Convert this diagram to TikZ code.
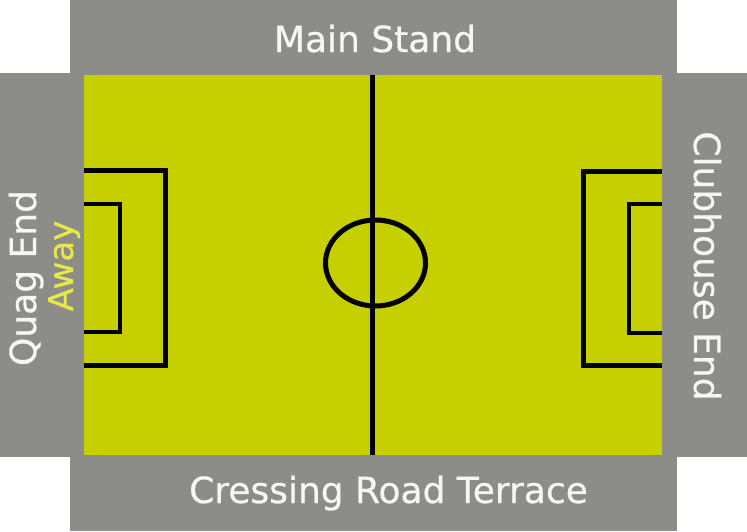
\documentclass[tikz,border=0pt]{standalone}
\usepackage{fontspec}
\setmainfont{DejaVu Sans}[FakeBold=0.6]
\definecolor{standgray}{HTML}{8C8C88}
\definecolor{pitchgreen}{HTML}{C6D000}
\definecolor{awayyellow}{HTML}{E8E848}
\definecolor{textwhite}{HTML}{F6F6F2}
\tikzset{
  standlabel/.style={inner sep=0pt, anchor=base, text=textwhite, font=\fontsize{36}{40}\selectfont},
  awaylabel/.style={inner sep=0pt, anchor=base, text=awayyellow, font=\fontsize{34}{38}\selectfont},
  pitchline/.style={draw=black, line width=5pt},
  thinline/.style={draw=black, line width=4pt}
}
\begin{document}
\begin{tikzpicture}[x=1pt,y=-1pt]
\useasboundingbox (0,0) rectangle (747,531);
\fill[white] (0,0) rectangle (747,531);
% stands
\fill[standgray] (70,0) rectangle (677,531);
\fill[standgray] (0,73) rectangle (747,457);
% pitch
\fill[pitchgreen] (84,75) rectangle (662,455);
% halfway line and centre circle
\coordinate (ht) at (372,75);
\coordinate (hb) at (372,455);
\draw[pitchline] (ht) -- (hb);
\coordinate (cc) at (375.5,263);
\draw[pitchline] (cc) ellipse [x radius=50, y radius=43];
% left penalty area and goal area
\coordinate (lpa1) at (84,170.5);
\coordinate (lpa2) at (165.5,365);
\coordinate (lpa3) at (84,365);
\draw[pitchline] (lpa1) -| (lpa2) -- (lpa3);
\coordinate (lga1) at (84,204);
\coordinate (lga2) at (119.5,332);
\coordinate (lga3) at (84,332);
\draw[thinline] (lga1) -| (lga2) -- (lga3);
% right penalty area and goal area
\coordinate (rpa1) at (662,171.5);
\coordinate (rpa2) at (583,365.5);
\coordinate (rpa3) at (662,365.5);
\draw[pitchline] (rpa1) -| (rpa2) -- (rpa3);
\coordinate (rga1) at (662,204);
\coordinate (rga2) at (629,332.5);
\coordinate (rga3) at (662,332.5);
\draw[thinline] (rga1) -| (rga2) -- (rga3);
% labels
\node[standlabel] (main) at (375,52) {Main Stand};
\node[standlabel] (cressing) at (388.5,503) {Cressing Road Terrace};
\node[standlabel, rotate=90] (quag) at (36,278) {Quag End};
\node[awaylabel, rotate=90] (away) at (73,266) {Away};
\node[standlabel, rotate=-90] (club) at (694,266) {Clubhouse End};
\end{tikzpicture}
\end{document}
